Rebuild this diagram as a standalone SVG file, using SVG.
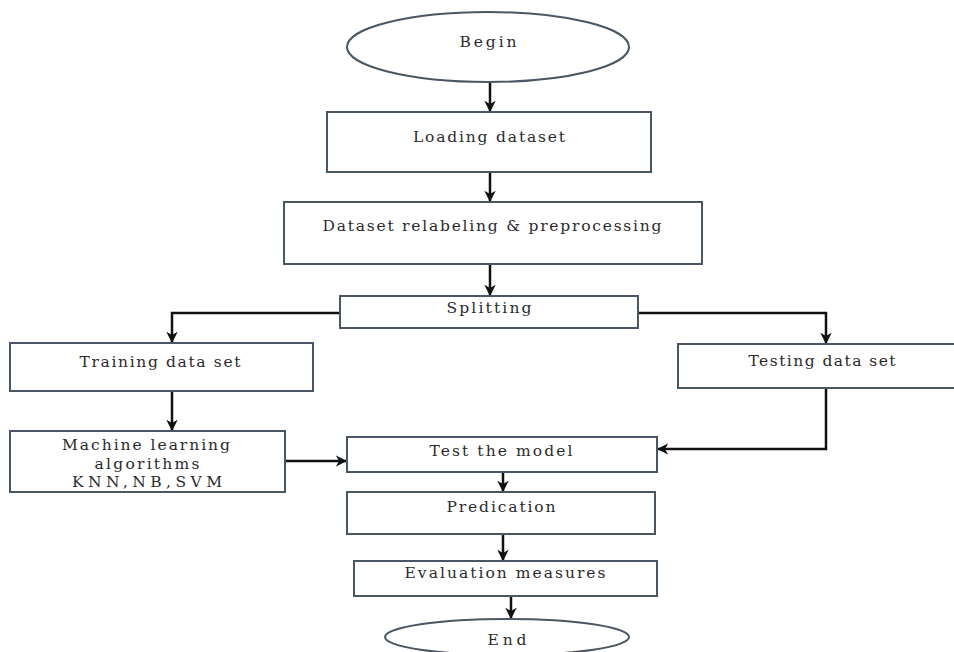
<svg xmlns="http://www.w3.org/2000/svg" width="954" height="652" viewBox="0 0 954 652">
<style>
.box{fill:#fff;stroke:#4a5663;stroke-width:2}
.t{font-family:"DejaVu Serif","Liberation Serif",serif;font-size:15.5px;fill:#2b2b2b;text-anchor:middle}
.c{fill:none;stroke:#111;stroke-width:2.5}
</style>
<defs>
<marker id="ah" viewBox="0 0 10 10" refX="9" refY="5" markerWidth="4.6" markerHeight="4.6" markerUnits="strokeWidth" orient="auto">
<path d="M0,0 L10,5 L0,10 L3,5 z" fill="#111"/>
</marker>
</defs>
<rect width="954" height="652" fill="#fff"/>
<g id="connectors">
<line class="c" x1="490" y1="82" x2="490" y2="111" marker-end="url(#ah)"/>
<line class="c" x1="490" y1="172" x2="490" y2="201" marker-end="url(#ah)"/>
<line class="c" x1="490" y1="264" x2="490" y2="295" marker-end="url(#ah)"/>
<polyline class="c" points="340,313 172,313 172,342" marker-end="url(#ah)"/>
<polyline class="c" points="638,313 826,313 826,343" marker-end="url(#ah)"/>
<line class="c" x1="172" y1="391" x2="172" y2="430" marker-end="url(#ah)"/>
<line class="c" x1="285" y1="461" x2="346" y2="461" stroke-width="1.8" marker-end="url(#ah)"/>
<polyline class="c" points="826,388 826,449 658,449" stroke-width="2" marker-end="url(#ah)"/>
<line class="c" x1="503" y1="472" x2="503" y2="491" marker-end="url(#ah)"/>
<line class="c" x1="503" y1="534" x2="503" y2="560" marker-end="url(#ah)"/>
<line class="c" x1="511" y1="596" x2="511" y2="618" marker-end="url(#ah)"/>
</g>
<g id="begin">
<ellipse class="box" cx="488" cy="47" rx="141" ry="35"/>
<text class="t" x="488" y="47" textLength="57" lengthAdjust="spacing">Begin</text>
</g>
<g id="loading">
<rect class="box" x="327" y="112" width="324" height="60"/>
<text class="t" x="489" y="142" textLength="152" lengthAdjust="spacing">Loading dataset</text>
</g>
<g id="relabel">
<rect class="box" x="284" y="202" width="418" height="62"/>
<text class="t" x="492" y="231" textLength="339" lengthAdjust="spacing">Dataset relabeling &amp; preprocessing</text>
</g>
<g id="splitting">
<rect class="box" x="340" y="296" width="298" height="32"/>
<text class="t" x="489" y="313" textLength="85" lengthAdjust="spacing">Splitting</text>
</g>
<g id="training">
<rect class="box" x="10" y="343" width="303" height="48"/>
<text class="t" x="160" y="367" textLength="161" lengthAdjust="spacing">Training data set</text>
</g>
<g id="testing">
<rect class="box" x="678" y="344" width="290" height="44"/>
<text class="t" x="822" y="366" textLength="147" lengthAdjust="spacing">Testing data set</text>
</g>
<g id="ml">
<rect class="box" x="10" y="431" width="275" height="61"/>
<text class="t" x="146" y="450" textLength="168" lengthAdjust="spacing">Machine learning</text>
<text class="t" x="147" y="469" textLength="105" lengthAdjust="spacing">algorithms</text>
<text class="t" x="147" y="487" textLength="150" lengthAdjust="spacing">KNN,NB,SVM</text>
</g>
<g id="testmodel">
<rect class="box" x="347" y="437" width="310" height="35"/>
<text class="t" x="501" y="456" textLength="143" lengthAdjust="spacing">Test the model</text>
</g>
<g id="predication">
<rect class="box" x="347" y="492" width="308" height="42"/>
<text class="t" x="501" y="512" textLength="109" lengthAdjust="spacing">Predication</text>
</g>
<g id="evaluation">
<rect class="box" x="354" y="561" width="303" height="35"/>
<text class="t" x="505" y="578" textLength="201" lengthAdjust="spacing">Evaluation measures</text>
</g>
<g id="end">
<ellipse class="box" cx="507" cy="637" rx="122" ry="18"/>
<text class="t" x="507" y="645" textLength="39" lengthAdjust="spacing">End</text>
</g>
</svg>
